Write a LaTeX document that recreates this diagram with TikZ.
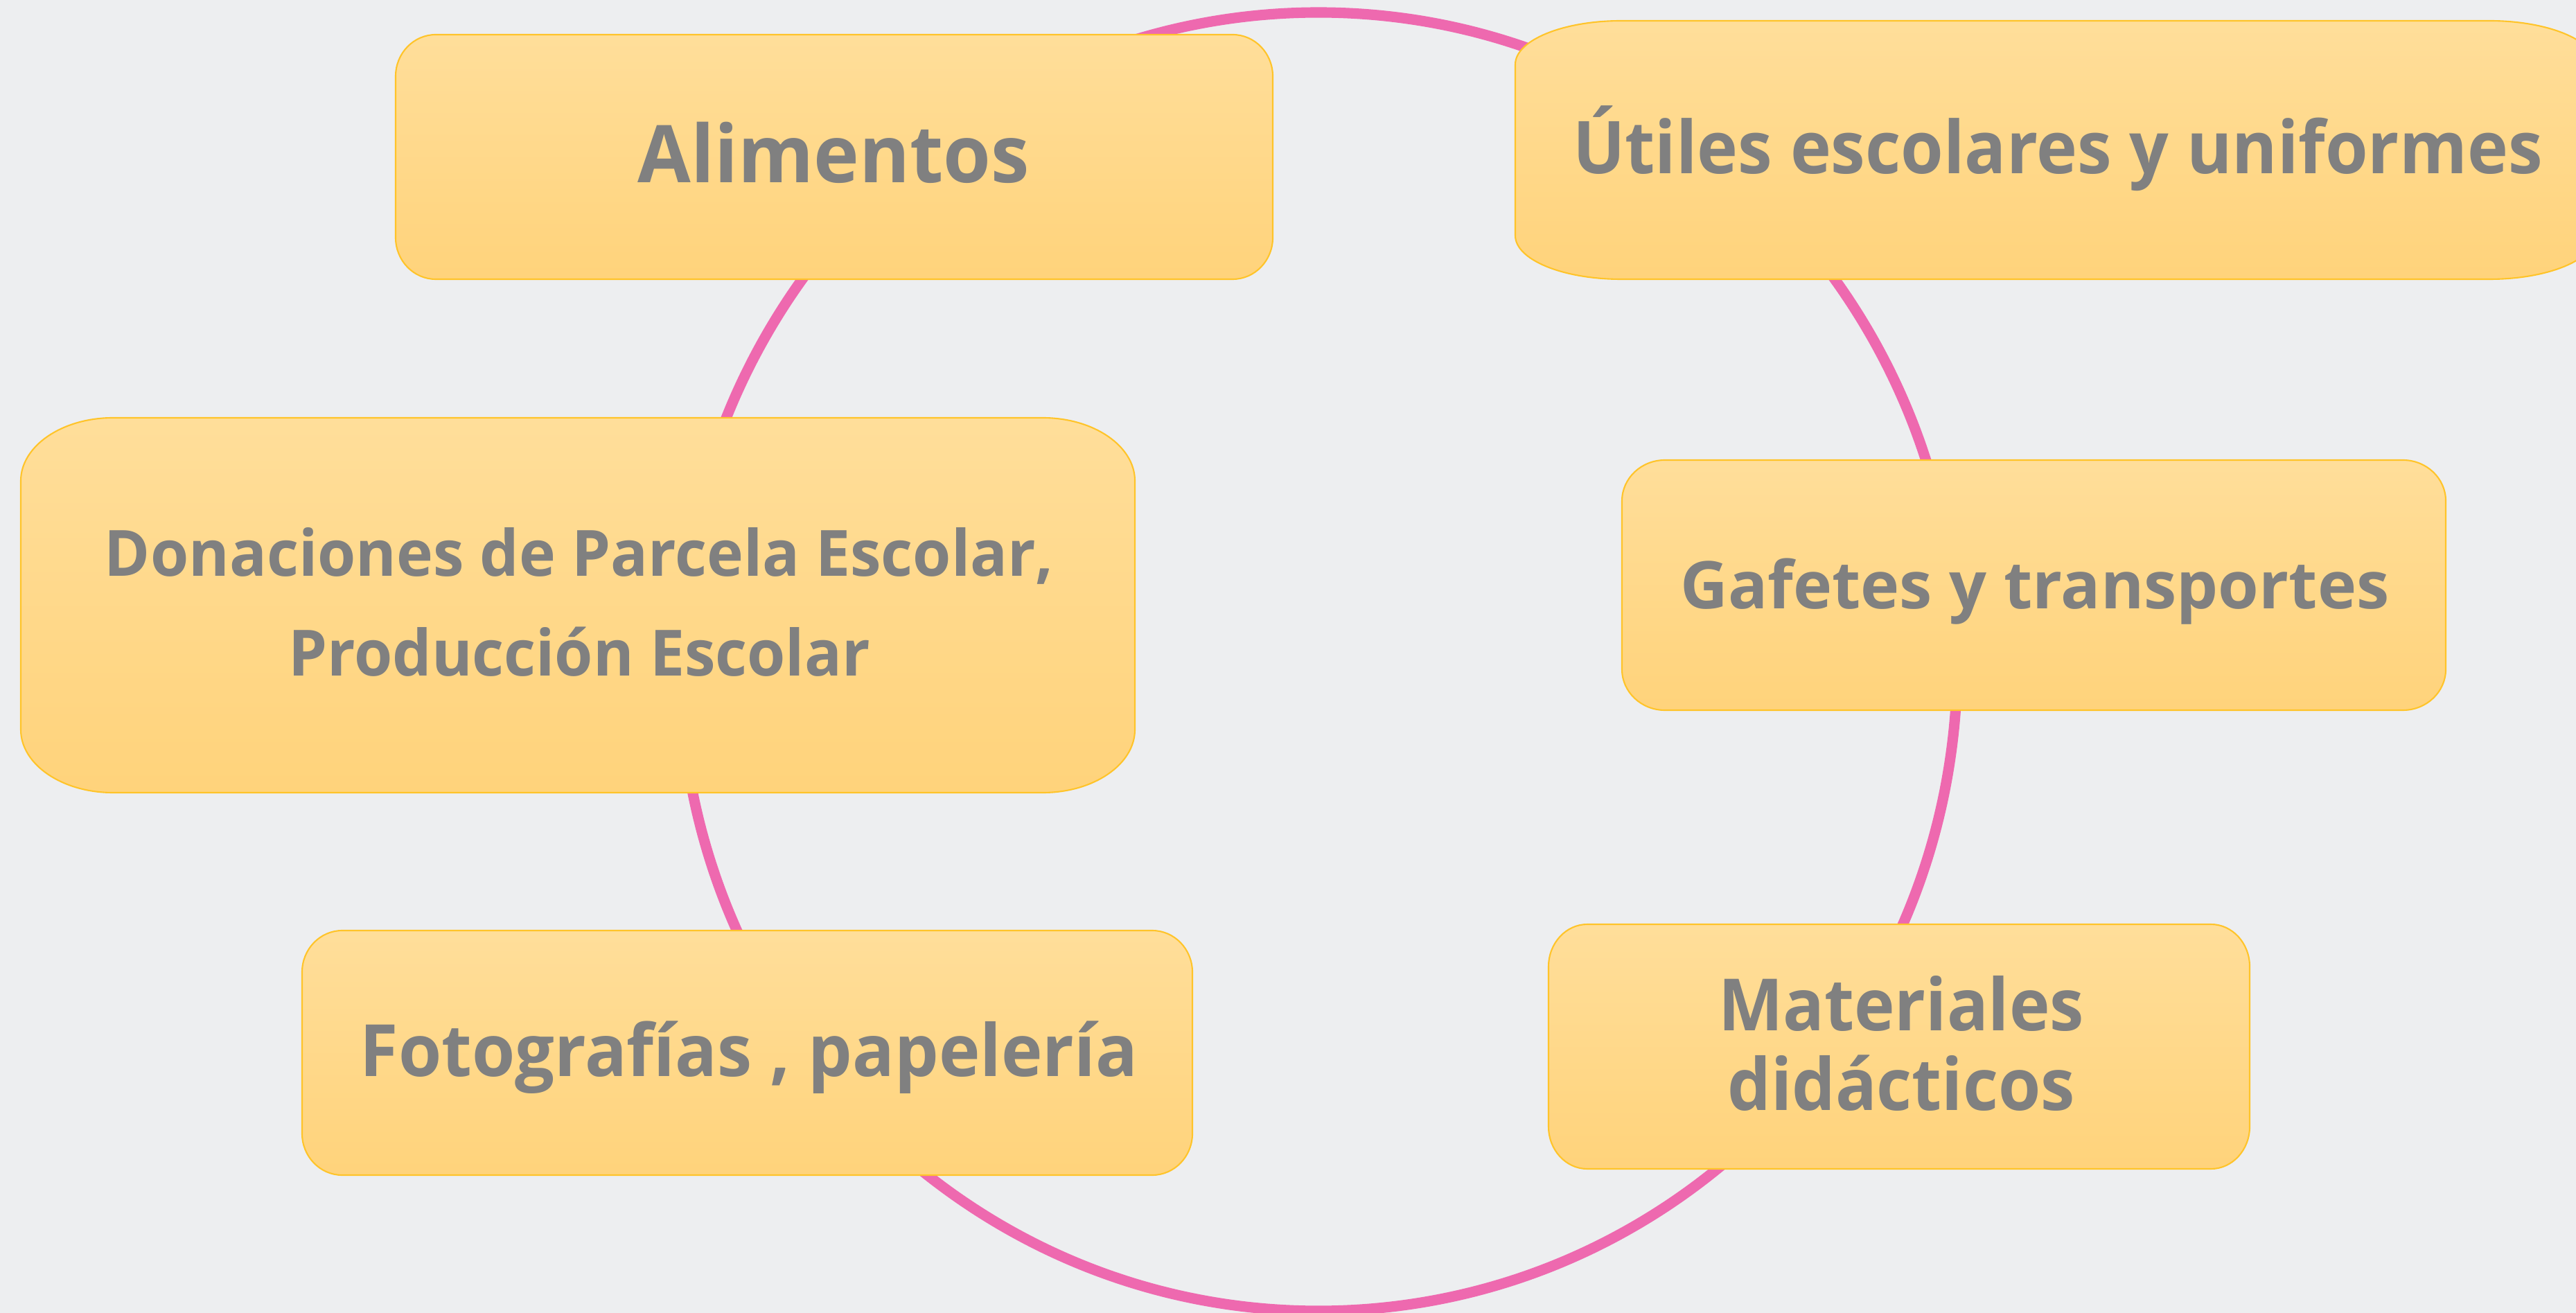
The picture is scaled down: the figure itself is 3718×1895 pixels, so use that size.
\documentclass[tikz,border=0pt]{standalone}
\usepackage{graphicx}
\usepackage{fontspec}
\setmainfont{Open Sans}
\definecolor{bg}{HTML}{EDEEF0}
\definecolor{ring}{HTML}{EE69AF}
\definecolor{boxtop}{HTML}{FFDE9A}
\definecolor{boxbot}{HTML}{FFD37B}
\definecolor{boxline}{HTML}{FFC42A}
\definecolor{txt}{HTML}{808080}
\tikzset{
  boxpath/.style={top color=boxtop, bottom color=boxbot, draw=boxline, line width=0.6pt},
  lbl/.style={text=txt, inner sep=0pt, anchor=base},
  ringline/.style={draw=ring, line width=4.3pt}
}
% #1,#2 top-left  #3,#4 bottom-right  #5,#6 corner radii (pixel units, y downwards)
\newcommand\ybox[6]{%
  \path[boxpath] (#1+#5,#2) -- (#3-#5,#2)
    arc[start angle=-90, end angle=0, x radius=#5, y radius=#6]
    -- (#3,#4-#6)
    arc[start angle=0, end angle=90, x radius=#5, y radius=#6]
    -- (#1+#5,#4)
    arc[start angle=90, end angle=180, x radius=#5, y radius=#6]
    -- (#1,#2+#6)
    arc[start angle=180, end angle=270, x radius=#5, y radius=#6]
    -- cycle;}
\begin{document}
\begin{tikzpicture}[x=0.01cm, y=-0.01cm]
\useasboundingbox (0,0) rectangle (3718,1895);
\fill[bg] (0,0) rectangle (3718,1895);
\clip (0,0) rectangle (3718,1895);
\coordinate (ringc) at (1903,955);
\draw[ringline] (ringc) ellipse [x radius=922, y radius=937];

\ybox{571}{50}{1837}{403}{58}{60}
\ybox{2187}{30}{3746}{403}{153}{63}
\ybox{30}{603}{1638}{1144}{133}{91}
\ybox{2341}{664}{3530}{1025}{62}{59}
\ybox{436}{1343}{1721}{1696}{58}{60}
\ybox{2235}{1334}{3247}{1687}{56}{61}

\node[lbl, font=\bfseries\fontsize{32.7}{40}\selectfont] (alim) at (1203,264)
  {\scalebox{0.967}[1]{Alimentos}};
\node[lbl, font=\bfseries\fontsize{29.9}{36}\selectfont] (util) at (2970,251)
  {\scalebox{0.948}[1]{Útiles escolares y uniformes}};
\node[lbl, font=\bfseries\fontsize{26.2}{40.7}\selectfont] (don) at (836,832)
  {\scalebox{0.97}[1]{\begin{tabular}[t]{@{}c@{}}Donaciones de Parcela Escolar,\\Producción Escolar\end{tabular}}};
\node[lbl, font=\bfseries\fontsize{27}{33}\selectfont] (gaf) at (2937,879) {Gafetes y transportes};
\node[lbl, font=\bfseries\fontsize{29.6}{36}\selectfont] (foto) at (1081,1553)
  {\scalebox{0.967}[1]{Fotografías , papelería}};
\node[lbl, font=\bfseries\fontsize{29.6}{32.7}\selectfont] (mat) at (2744,1487)
  {\scalebox{0.952}[1]{\begin{tabular}[t]{@{}c@{}}Materiales\\didácticos\end{tabular}}};
\end{tikzpicture}
\end{document}
